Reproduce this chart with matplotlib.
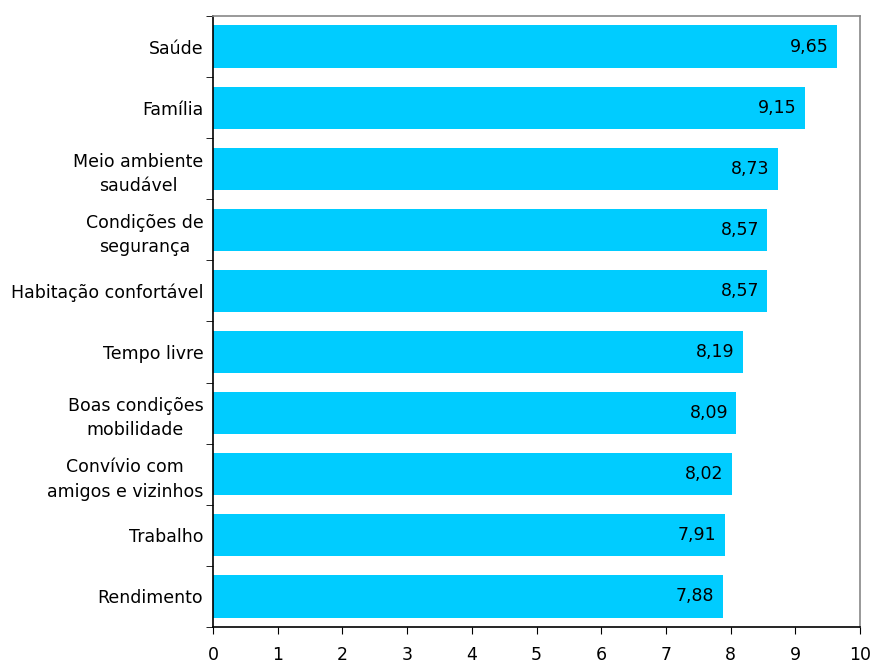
import matplotlib
matplotlib.use("Agg")
import matplotlib.pyplot as plt
import numpy as np

categories = ["Saúde", "Família", "Meio ambiente\nsaudável", "Condições de\nsegurança",
              "Habitação confortável", "Tempo livre", "Boas condições\nmobilidade",
              "Convívio com\namigos e vizinhos", "Trabalho", "Rendimento"]
values = [9.65, 9.15, 8.73, 8.57, 8.57, 8.19, 8.09, 8.02, 7.91, 7.88]
xticks = list(range(0, 11))

plt.rcParams['font.family'] = ['DejaVu Sans']
plt.rcParams['font.size'] = 12.5

fig = plt.figure(figsize=(8.72, 6.64), dpi=100)
ax = fig.add_axes([213 / 872, 1 - 627 / 664, (860 - 213) / 872, (627 - 16) / 664])

y = np.arange(len(categories))
ax.barh(y, values, height=0.69, color="#00CCFF")
for yi, v in zip(y, values):
    ax.text(v - 0.13, yi, f"{v:.2f}".replace(".", ","), ha="right", va="center", fontsize=12.5)

ax.set_xlim(0, 10)
ax.set_ylim(len(categories) - 0.5, -0.5)
ax.set_xticks(xticks)
ax.set_yticks(y)
ax.set_yticklabels(categories, ha="right", multialignment="center", linespacing=1.45)
ax.tick_params(axis="y", length=0, pad=7)
ax.set_yticks(np.arange(-0.5, len(categories)), minor=True)
ax.tick_params(axis="y", which="minor", length=5, direction="out", color="black")
ax.tick_params(axis="x", length=5, direction="out", labelsize=12.5, pad=9)

ax.spines["left"].set_color("black")
ax.spines["bottom"].set_color("black")
ax.spines["top"].set_color("#888888")
ax.spines["right"].set_color("#888888")
for s in ax.spines.values():
    s.set_linewidth(1.2)

fig.savefig("out.png", dpi=100)
